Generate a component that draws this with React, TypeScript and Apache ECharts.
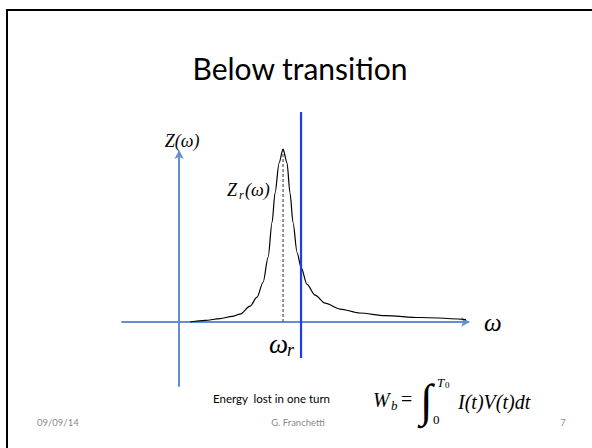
import React, { useEffect, useRef } from "react";
import * as echarts from "echarts";

// Resonance impedance curve Re Z(ω), ω in units of ω_r, Z normalised to the peak
const curveOmega = [
  0.106, 0.25, 0.394, 0.51, 0.587, 0.683, 0.75, 0.808, 0.856, 0.894, 0.923,
  0.962, 1.0, 1.038, 1.067, 1.096, 1.135, 1.173, 1.231, 1.308, 1.404, 1.548,
  1.74, 1.981, 2.317, 2.76,
];
const curveZ = [
  0.0, 0.009, 0.02, 0.032, 0.046, 0.092, 0.144, 0.23, 0.374, 0.575, 0.747,
  0.92, 1.0, 0.92, 0.747, 0.575, 0.402, 0.316, 0.218, 0.155, 0.109, 0.075,
  0.052, 0.037, 0.026, 0.014,
];

// Resonance peak (dashed marker)
const peakOmega = [1.0, 1.0];
const peakZ = [0.0, 1.0];

// Beam spectrum line (below transition)
const beamOmega = [1.173, 1.173];
const beamZ = [-0.208, 1.214];

// Axis extents
const xExtent = [-0.55, 2.78];
const yExtent = [-0.37, 0.983];

const zip = (xs: number[], ys: number[]) => xs.map((x, i) => [x, ys[i]]);

const SERIF = "'Liberation Serif', 'DejaVu Serif', serif";
const SANS = "Lato, 'Open Sans', sans-serif";
const AXIS_BLUE = "#5f90d2";

export default function App() {
  const ref = useRef<HTMLDivElement>(null);

  useEffect(() => {
    if (!ref.current) return;
    const chart = echarts.init(ref.current, undefined, { renderer: "svg" });

    const math = (
      text: string,
      x: number,
      y: number,
      size: number,
      italic = true
    ) => ({
      type: "text",
      x,
      y,
      style: {
        text,
        fill: "#000",
        font: `${italic ? "italic " : ""}${size}px ${SERIF}`,
        textAlign: "left",
        textVerticalAlign: "middle",
      },
    });

    chart.setOption({
      animation: false,
      backgroundColor: "#ffffff",
      grid: { left: 122, right: 124, top: 152, bottom: 62 },
      xAxis: {
        type: "value",
        min: xExtent[0],
        max: xExtent[1],
        axisLine: {
          onZero: true,
          symbol: ["none", "arrow"],
          symbolSize: [7, 9],
          symbolOffset: [0, 2],
          lineStyle: { color: AXIS_BLUE, width: 2 },
        },
        axisTick: { show: false },
        axisLabel: { show: false },
        splitLine: { show: false },
        name: "ω",
        nameLocation: "end",
        nameGap: 16,
        nameTextStyle: {
          fontFamily: SERIF,
          fontStyle: "italic",
          fontSize: 25,
          color: "#000",
          verticalAlign: "middle",
          padding: [0, 0, 6, 0],
        },
      },
      yAxis: {
        type: "value",
        min: yExtent[0],
        max: yExtent[1],
        axisLine: {
          onZero: true,
          symbol: ["none", "arrow"],
          symbolSize: [7, 9],
          symbolOffset: [0, 2],
          lineStyle: { color: AXIS_BLUE, width: 2 },
        },
        axisTick: { show: false },
        axisLabel: { show: false },
        splitLine: { show: false },
        name: "Z(ω)",
        nameLocation: "end",
        nameGap: 2,
        nameTextStyle: {
          fontFamily: SERIF,
          fontStyle: "italic",
          fontSize: 18,
          color: "#000",
          padding: [0, 0, 0, 6],
        },
      },
      series: [
        {
          type: "line",
          data: zip(curveOmega, curveZ),
          smooth: 0.3,
          smoothMonotone: "x",
          showSymbol: false,
          symbol: "none",
          clip: false,
          lineStyle: { color: "#000", width: 1.2 },
          z: 3,
        },
        {
          type: "line",
          data: zip(peakOmega, peakZ),
          symbol: "none",
          clip: false,
          lineStyle: { color: "#555", width: 1.2, type: [3, 2] },
          z: 2,
        },
        {
          type: "line",
          data: zip(beamOmega, beamZ),
          symbol: "none",
          clip: false,
          lineStyle: { color: "#1c3cf2", width: 2.2 },
          z: 4,
        },
      ],
      graphic: [
        // slide frame
        {
          type: "rect",
          shape: { x: 7, y: 10, width: 600, height: 460 },
          style: { fill: "none", stroke: "#000", lineWidth: 2 },
          silent: true,
        },
        {
          type: "text",
          x: 300,
          y: 68,
          style: {
            text: "Below transition",
            fill: "#000",
            font: `30px ${SANS}`,
            textAlign: "center",
            textVerticalAlign: "middle",
          },
        },
        // Z_r(ω)
        math("Z", 227, 190, 18),
        math("r", 239, 195, 12),
        math("(ω)", 245, 190, 18),
        // ω_r under the peak
        math("ω", 269, 344, 27),
        math("r", 287, 350, 18),
        // energy loss
        {
          type: "text",
          x: 213,
          y: 398,
          style: {
            text: "Energy  lost in one turn",
            fill: "#000",
            font: `11.5px ${SANS}`,
            textAlign: "left",
            textVerticalAlign: "middle",
          },
        },
        math("W", 373, 400, 20),
        math("b", 391, 405, 13),
        math("=", 401, 399, 20, false),
        {
          type: "text",
          x: 420,
          y: 400,
          style: {
            text: "∫",
            fill: "#000",
            font: `46px 'Liberation Serif', serif`,
            textAlign: "left",
            textVerticalAlign: "middle",
          },
        },
        math("T", 437, 382, 13),
        math("0", 445, 385, 9, false),
        math("0", 433, 419, 13, false),
        math("I(t)V(t)dt", 458, 402, 20),
        // footer
        {
          type: "text",
          x: 37,
          y: 422,
          style: {
            text: "09/09/14",
            fill: "#8a8a8a",
            font: `9.5px ${SANS}`,
            textAlign: "left",
            textVerticalAlign: "middle",
          },
        },
        {
          type: "text",
          x: 298,
          y: 422,
          style: {
            text: "G. Franchetti",
            fill: "#8a8a8a",
            font: `9.5px ${SANS}`,
            textAlign: "center",
            textVerticalAlign: "middle",
          },
        },
        {
          type: "text",
          x: 563,
          y: 422,
          style: {
            text: "7",
            fill: "#8a8a8a",
            font: `9.5px ${SANS}`,
            textAlign: "center",
            textVerticalAlign: "middle",
          },
        },
      ],
    });

    return () => chart.dispose();
  }, []);

  return (
    <div
      ref={ref}
      style={{ position: "fixed", left: 0, top: 0, width: 592, height: 448 }}
    />
  );
}
